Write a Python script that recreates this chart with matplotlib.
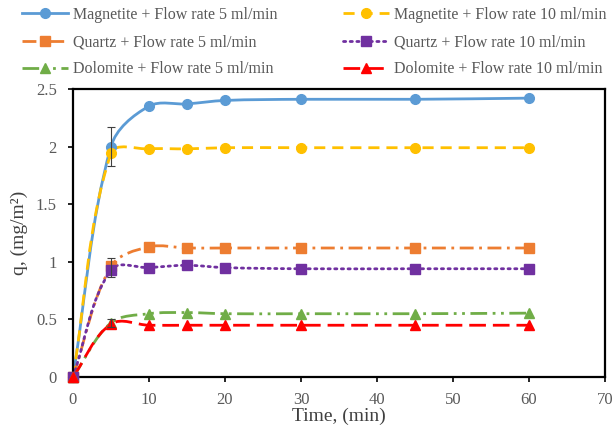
"""Adsorption q vs time for three minerals at two flow rates."""

import matplotlib.pyplot as plt
from matplotlib.path import Path
from matplotlib.patches import PathPatch
from matplotlib.lines import Line2D
import numpy as np

plt.rcParams['font.family'] = ['Liberation Serif', 'DejaVu Serif']

time = [0, 5, 10, 15, 20, 30, 45, 60]

magnetite_5 = [0, 2.00, 2.35, 2.37, 2.40, 2.41, 2.41, 2.42]
magnetite_10 = [0, 1.94, 1.98, 1.98, 1.99, 1.99, 1.99, 1.99]
quartz_5 = [0, 0.96, 1.13, 1.12, 1.12, 1.12, 1.12, 1.12]
quartz_10 = [0, 0.93, 0.95, 0.97, 0.95, 0.94, 0.94, 0.94]
dolomite_5 = [0, 0.47, 0.55, 0.56, 0.55, 0.55, 0.55, 0.555]
dolomite_10 = [0, 0.46, 0.45, 0.45, 0.45, 0.45, 0.45, 0.45]

# error bars at t = 5 min only
err_time = [5, 5, 5]
err_value = [2.00, 0.95, 0.47]
err_size = [0.17, 0.08, 0.035]

labels = ["Magnetite + Flow rate 5 ml/min", "Magnetite + Flow rate 10 ml/min",
          "Quartz + Flow rate 5 ml/min", "Quartz + Flow rate 10 ml/min",
          "Dolomite + Flow rate 5 ml/min", "Dolomite + Flow rate 10 ml/min"]
series = [magnetite_5, magnetite_10, quartz_5, quartz_10, dolomite_5, dolomite_10]
colors = ['#5B9BD5', '#FFC000', '#ED7D31', '#7030A0', '#70AD47', '#FF0000']
markers = ['o', 'o', 's', 's', '^', '^']
dashes = [None, (4, 2.5), (5, 2, 1, 2), (0.8, 1.6), (6, 2, 1, 2, 1, 2), (6, 2.5)]
caps = ['butt', 'butt', 'butt', 'round', 'butt', 'butt']


def smooth_path(ax, x, y):
    """Excel-like smoothed line, built in screen space and mapped back to data."""
    pts = ax.transData.transform(np.column_stack([x, y]).astype(float))
    n = len(pts)
    verts = [pts[0]]
    codes = [Path.MOVETO]
    for i in range(n - 1):
        p0 = pts[max(i - 1, 0)]
        p1 = pts[i]
        p2 = pts[i + 1]
        p3 = pts[min(i + 2, n - 1)]
        seg = np.hypot(*(p2 - p1))
        t1 = p2 - p0
        t2 = p3 - p1
        c1 = p1 + t1 * seg / max(np.hypot(*t1), 1e-9) / 3.0
        c2 = p2 - t2 * seg / max(np.hypot(*t2), 1e-9) / 3.0
        verts += [c1, c2, p2]
        codes += [Path.CURVE4] * 3
    verts = ax.transData.inverted().transform(np.array(verts))
    return Path(verts, codes)


fig = plt.figure(figsize=(6.13, 4.38), dpi=100)
ax = fig.add_axes([0.119, 0.139, 0.868, 0.658])
ax.set_xlim(0, 70)
ax.set_ylim(0, 2.5)

handles = []
for vals, c, m, d, cs in zip(series, colors, markers, dashes, caps):
    patch = PathPatch(smooth_path(ax, time, vals), fill=False, edgecolor=c,
                      linewidth=2.0, capstyle=cs, zorder=2)
    if d is not None:
        patch.set_linestyle((0, d))
    ax.add_patch(patch)
    ms = 7 if m == 'o' else 6.5
    ax.plot(time, vals, linestyle='none', marker=m, markersize=ms,
            color=c, zorder=3, clip_on=False)
    handles.append(Line2D([], [], color=c, linewidth=2.0, marker=m, markersize=ms,
                          linestyle='-' if d is None else (0, d),
                          dash_capstyle=cs))

ax.errorbar(err_time, err_value, yerr=err_size, fmt='none', ecolor='#404040',
            elinewidth=0.8, capsize=3, capthick=0.8, zorder=4)

ax.set_xticks(np.arange(0, 71, 10))
ax.set_yticks([0, 0.5, 1, 1.5, 2, 2.5])
ax.set_yticklabels(['0', '0.5', '1', '1.5', '2', '2.5'])

for sp in ax.spines.values():
    sp.set_linewidth(1.6)
    sp.set_color('black')
ax.tick_params(direction='out', length=3.6, width=1.2, labelsize=12,
               labelcolor='#595959', color='black')
ax.tick_params(axis='x', pad=7)
ax.tick_params(axis='y', pad=8)
ax.set_xlabel('Time, (min)', fontsize=14, color='#404040', labelpad=0)
ax.set_ylabel('q, (mg/m²)', fontsize=14, color='#404040')
ax.yaxis.set_label_coords(-0.085, 0.5)

# fig.legend fills column-wise, so reorder to read across rows
order = [0, 2, 4, 1, 3, 5]
fig.legend(handles=[handles[i] for i in order], labels=[labels[i] for i in order],
           loc='upper left', bbox_to_anchor=(0.0124, 1.017), ncol=2, frameon=False,
           fontsize=11.5, handlelength=2.9, handletextpad=0.3, columnspacing=4.1,
           labelspacing=0.7, labelcolor='#595959')

fig.savefig('out.png', dpi=100)
